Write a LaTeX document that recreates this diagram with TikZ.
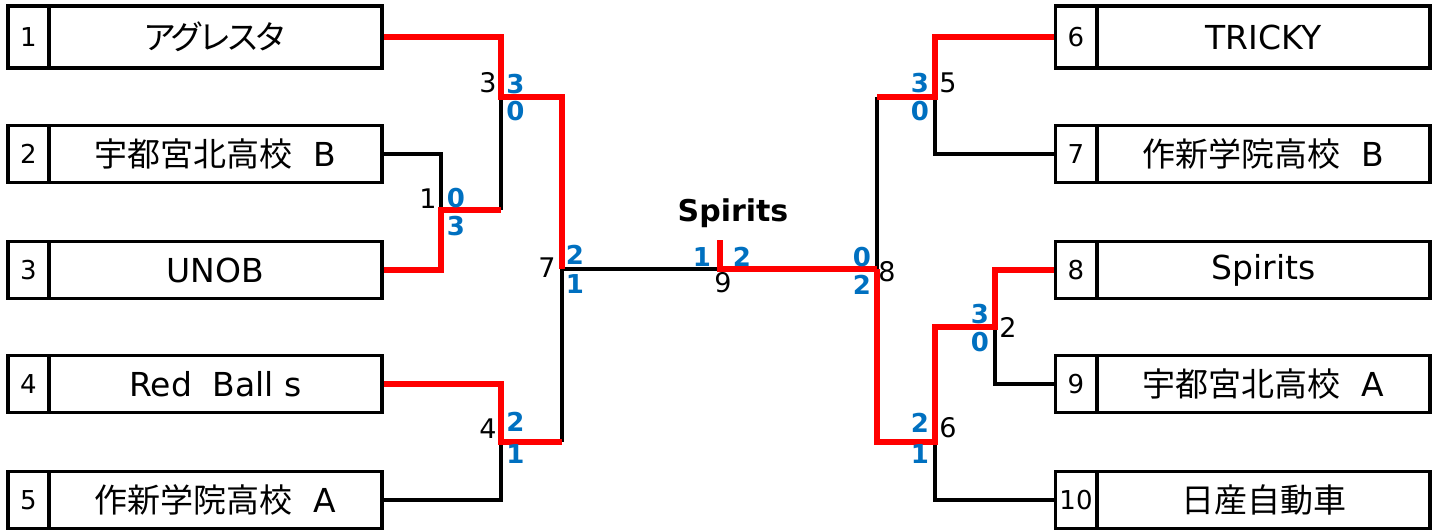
\documentclass[tikz,border=0pt]{standalone}
\usepackage{fontspec}
\setmainfont{DejaVu Sans}
\newfontfamily\jp{Noto Sans CJK JP}
\newfontfamily\jpp[LetterSpace=-15]{Noto Sans CJK JP}
\definecolor{scoreblue}{RGB}{0,112,192}
\definecolor{winred}{RGB}{255,0,0}
\tikzset{
  cellbase/.style={draw=black, line width=1.7pt, inner sep=0pt, rectangle},
  namecell/.style={cellbase, minimum width=166.5pt, minimum height=28.5pt, font=\fontsize{16.5}{18}\selectfont},
  numcell/.style={cellbase, minimum width=20.5pt, minimum height=28.5pt, font=\fontsize{13}{15}\selectfont},
  tall/.style={minimum height=31pt},
  blk/.style={draw=black, line width=1.6pt, line join=miter},
  rd/.style={draw=winred, line width=2.7pt, line join=miter},
  matchno/.style={inner sep=0pt, font=\fontsize{13.5}{15}\selectfont},
  score/.style={inner sep=0pt, text=scoreblue, font=\bfseries\fontsize{13}{15}\selectfont},
  champ/.style={inner sep=0pt, font=\bfseries\fontsize{15}{17}\selectfont}
}
\begin{document}
\begin{tikzpicture}[x=0.5pt,y=-0.5pt]
\useasboundingbox (0,0) rectangle (1440,530);
% left entries
\node[numcell,tall] (n1) at (28.5,37) {1};
\node[namecell,tall] (L1) at (215.5,37) {\jpp アグレスタ};
\node[numcell] (n2) at (28.5,154) {2};
\node[namecell] (L2) at (215.5,154) {{\jp 宇都宮北高校}\ \ B};
\node[numcell] (n3) at (28.5,270) {3};
\node[namecell] (L3) at (215.5,270) {UNOB};
\node[numcell] (n4) at (28.5,384) {4};
\node[namecell] (L4) at (215.5,384) {Red\ \ Ball s};
\node[numcell] (n5) at (28.5,500) {5};
\node[namecell] (L5) at (215.5,500) {{\jp 作新学院高校}\ \ A};
% right entries
\node[numcell,tall] (n6) at (1076,37) {6};
\node[namecell,tall] (R6) at (1263.5,37) {TRICKY};
\node[numcell] (n7) at (1076,154) {7};
\node[namecell] (R7) at (1263.5,154) {{\jp 作新学院高校}\ \ B};
\node[numcell] (n8) at (1076,270) {8};
\node[namecell] (R8) at (1263.5,270) {Spirits};
\node[numcell] (n9) at (1076,384) {9};
\node[namecell] (R9) at (1263.5,384) {{\jp 宇都宮北高校}\ \ A};
\node[numcell] (n10) at (1076,500) {10};
\node[namecell] (R10) at (1263.5,500) {{\jp 日産自動車}};
% junctions
\coordinate (j1) at (441,210);
\coordinate (j3) at (501,97);
\coordinate (j4) at (501,442);
\coordinate (j7) at (562,269);
\coordinate (j9) at (720,269);
\coordinate (jtop) at (720,240);
\coordinate (j8) at (877,269);
\coordinate (j5) at (935,97);
\coordinate (j2) at (995,327);
\coordinate (j6) at (935,442);
% black (losing) lines
\draw[blk] (L2.east) -| (j1);
\draw[blk] (j1 -| j3) -- (j3);
\draw[blk] (L5.east) -| (j4);
\draw[blk] (j4 -| j7) -- (j7);
\draw[blk] (j7) -- (j9);
\draw[blk] (j5 -| j8) -- (j8);
\draw[blk] (n7.west) -| (j5);
\draw[blk] (n9.west) -| (j2);
\draw[blk] (n10.west) -| (j6);
% red (winning) lines
\draw[rd] (L3.east) -| (j1) -- (j1 -| j3);
\draw[rd] (L1.east) -| (j3) -- (j3 -| j7) -- (j7);
\draw[rd] (L4.east) -| (j4) -- (j4 -| j7);
\draw[rd] (jtop) -- (j9) -- (j8);
\draw[rd] (n6.west) -| (j5) -- (j5 -| j8);
\draw[rd] (j8) -- (j6 -| j8) -- (j6) -- (j2 -| j6) -- (j2) |- (n8.west);
% champion
\node[champ] (champ) at (733,213) {Spirits};
% match numbers
\node[matchno] (m3) at (488,83) {3};
\node[matchno] (m1) at (428,199) {1};
\node[matchno] (m7) at (547,268) {7};
\node[matchno] (m4) at (488,429) {4};
\node[matchno] (m9) at (723,283) {9};
\node[matchno] (m8) at (887,272) {8};
\node[matchno] (m5) at (948,83) {5};
\node[matchno] (m2) at (1008,327) {2};
\node[matchno] (m6) at (948,428) {6};
% scores
\node[score] (s3a) at (515.5,84) {3};
\node[score] (s3b) at (515.5,111) {0};
\node[score] (s1a) at (456,198) {0};
\node[score] (s1b) at (456,226) {3};
\node[score] (s7a) at (575,255) {2};
\node[score] (s7b) at (575,284) {1};
\node[score] (s4a) at (515.5,422) {2};
\node[score] (s4b) at (515.5,454) {1};
\node[score] (s9a) at (702,257) {1};
\node[score] (s9b) at (742,257) {2};
\node[score] (s8a) at (862,257) {0};
\node[score] (s8b) at (862,285) {2};
\node[score] (s5a) at (920,83) {3};
\node[score] (s5b) at (920,111) {0};
\node[score] (s2a) at (980,314) {3};
\node[score] (s2b) at (980,342) {0};
\node[score] (s6a) at (920,423) {2};
\node[score] (s6b) at (920,454) {1};
\end{tikzpicture}
\end{document}
